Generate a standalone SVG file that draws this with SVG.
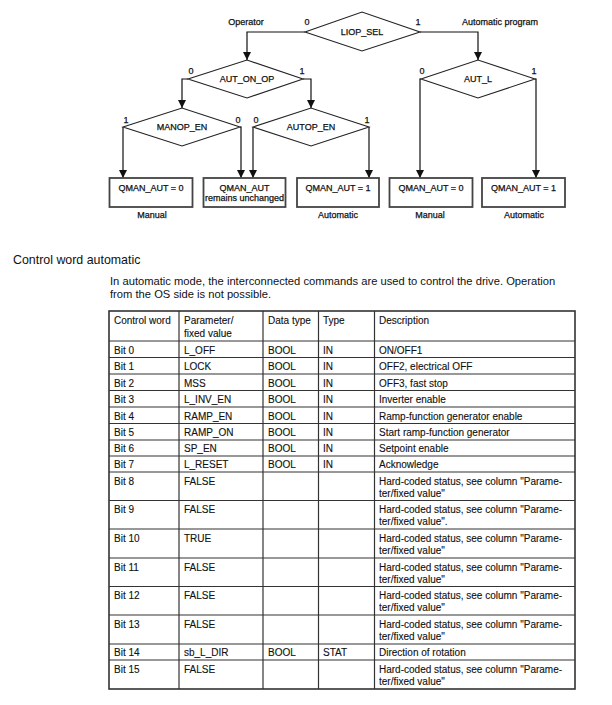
<svg xmlns="http://www.w3.org/2000/svg" width="612" height="705" viewBox="0 0 612 705">
<defs>
<style>
text{font-family:"Liberation Sans",Arial,sans-serif;fill:#111}
.d{font-size:9px;stroke:#111;stroke-width:0.25}
.m{text-anchor:middle}
.dia{fill:#fff;stroke:#222;stroke-width:1.1}
.box{fill:#fff;stroke:#444;stroke-width:1.8}
.c{fill:none;stroke:#111;stroke-width:1.2}
.t{font-size:10px;stroke:#111;stroke-width:0.12}
.tl{stroke:#333;stroke-width:1.2}
.tb{fill:none;stroke:#333;stroke-width:1.6}
</style>
</defs>
<rect width="612" height="705" fill="#fff"/>

<g id="connectors">
<path class="c" d="M305,32 H247 V60"/>
<path class="c" d="M420,32 H478 V60"/>
<path class="c" d="M188,79 H182 V108"/>
<path class="c" d="M303,79 H311 V108"/>
<path class="c" d="M123,127 V178"/>
<path class="c" d="M240,127 H241 V178"/>
<path class="c" d="M253,127 V178"/>
<path class="c" d="M369,127 V178"/>
<path class="c" d="M421,79 H420 V178"/>
<path class="c" d="M535,79 H536 V178"/>
<g fill="#111">
<path d="M243,52 L251,52 L247,60 Z"/>
<path d="M474,52 L482,52 L478,60 Z"/>
<path d="M178,100 L186,100 L182,108 Z"/>
<path d="M307,100 L315,100 L311,108 Z"/>
<path d="M119,170 L127,170 L123,178 Z"/>
<path d="M237,170 L245,170 L241,178 Z"/>
<path d="M249,170 L257,170 L253,178 Z"/>
<path d="M365,170 L373,170 L369,178 Z"/>
<path d="M416,170 L424,170 L420,178 Z"/>
<path d="M532,170 L540,170 L536,178 Z"/>
</g>
<text class="d m" x="246" y="25">Operator</text>
<text class="d m" x="307" y="25">0</text>
<text class="d m" x="418" y="25">1</text>
<text class="d" x="462" y="25">Automatic program</text>
<text class="d m" x="191" y="74">0</text>
<text class="d m" x="302" y="74">1</text>
<text class="d m" x="422" y="74">0</text>
<text class="d m" x="534" y="74">1</text>
<text class="d m" x="126" y="123">1</text>
<text class="d m" x="238" y="123">0</text>
<text class="d m" x="256" y="123">0</text>
<text class="d m" x="367" y="123">1</text>
</g>

<g id="liop_sel">
<polygon class="dia" points="305,32 362,12 420,32 362,51"/>
<text class="d m" x="362" y="35">LIOP_SEL</text>
</g>
<g id="aut_on_op">
<polygon class="dia" points="188,79 247,60 303,79 247,98"/>
<text class="d m" x="247" y="82">AUT_ON_OP</text>
</g>
<g id="aut_l">
<polygon class="dia" points="421,79 478,60 535,79 478,98"/>
<text class="d m" x="478" y="82">AUT_L</text>
</g>
<g id="manop_en">
<polygon class="dia" points="123,127 182,108 240,127 182,146"/>
<text class="d m" x="182" y="130">MANOP_EN</text>
</g>
<g id="autop_en">
<polygon class="dia" points="253,127 311,108 369,127 311,146"/>
<text class="d m" x="311" y="130">AUTOP_EN</text>
</g>

<g id="box1">
<rect class="box" x="109.5" y="178" width="83" height="29"/>
<text class="d m" x="151" y="191">QMAN_AUT = 0</text>
<text class="d m" x="152" y="218">Manual</text>
</g>
<g id="box2">
<rect class="box" x="203.5" y="178" width="82" height="29"/>
<text class="d m" x="244.5" y="191">QMAN_AUT</text>
<text class="d m" x="244.5" y="201">remains unchanged</text>
</g>
<g id="box3">
<rect class="box" x="297" y="178" width="82" height="29"/>
<text class="d m" x="338" y="191">QMAN_AUT = 1</text>
<text class="d m" x="338" y="218">Automatic</text>
</g>
<g id="box4">
<rect class="box" x="389.5" y="178" width="83" height="29"/>
<text class="d m" x="431" y="191">QMAN_AUT = 0</text>
<text class="d m" x="430" y="218">Manual</text>
</g>
<g id="box5">
<rect class="box" x="482" y="178" width="83" height="29"/>
<text class="d m" x="523.5" y="191">QMAN_AUT = 1</text>
<text class="d m" x="524" y="218">Automatic</text>
</g>

<text x="13" y="264" style="font-size:12.4px">Control word automatic</text>
<text x="110" y="284.5" style="font-size:11.2px">In automatic mode, the interconnected commands are used to control the drive. Operation</text>
<text x="110" y="298" style="font-size:11.2px">from the OS side is not possible.</text>

<g id="table">
<g class="tl">
<line x1="109" y1="341" x2="575" y2="341"/>
<line x1="109" y1="357.5" x2="575" y2="357.5"/>
<line x1="109" y1="374" x2="575" y2="374"/>
<line x1="109" y1="390.5" x2="575" y2="390.5"/>
<line x1="109" y1="407" x2="575" y2="407"/>
<line x1="109" y1="423.5" x2="575" y2="423.5"/>
<line x1="109" y1="440" x2="575" y2="440"/>
<line x1="109" y1="456" x2="575" y2="456"/>
<line x1="109" y1="472" x2="575" y2="472"/>
<line x1="109" y1="500.5" x2="575" y2="500.5"/>
<line x1="109" y1="529" x2="575" y2="529"/>
<line x1="109" y1="558" x2="575" y2="558"/>
<line x1="109" y1="586.5" x2="575" y2="586.5"/>
<line x1="109" y1="615" x2="575" y2="615"/>
<line x1="109" y1="644" x2="575" y2="644"/>
<line x1="109" y1="660" x2="575" y2="660"/>
<line x1="179" y1="311" x2="179" y2="689"/>
<line x1="263" y1="311" x2="263" y2="689"/>
<line x1="318.5" y1="311" x2="318.5" y2="689"/>
<line x1="374.5" y1="311" x2="374.5" y2="689"/>
</g>
<rect class="tb" x="109" y="311" width="466" height="378"/>
<g class="t">
<text x="114" y="324">Control word</text>
<text x="184" y="324">Parameter/</text>
<text x="184" y="337">fixed value</text>
<text x="268" y="324">Data type</text>
<text x="323" y="324">Type</text>
<text x="379" y="324">Description</text>

<text x="114" y="353.5">Bit 0</text><text x="184" y="353.5">L_OFF</text><text x="268" y="353.5">BOOL</text><text x="323" y="353.5">IN</text><text x="379" y="353.5">ON/OFF1</text>
<text x="114" y="370">Bit 1</text><text x="184" y="370">LOCK</text><text x="268" y="370">BOOL</text><text x="323" y="370">IN</text><text x="379" y="370">OFF2, electrical OFF</text>
<text x="114" y="386.5">Bit 2</text><text x="184" y="386.5">MSS</text><text x="268" y="386.5">BOOL</text><text x="323" y="386.5">IN</text><text x="379" y="386.5">OFF3, fast stop</text>
<text x="114" y="403">Bit 3</text><text x="184" y="403">L_INV_EN</text><text x="268" y="403">BOOL</text><text x="323" y="403">IN</text><text x="379" y="403">Inverter enable</text>
<text x="114" y="419.5">Bit 4</text><text x="184" y="419.5">RAMP_EN</text><text x="268" y="419.5">BOOL</text><text x="323" y="419.5">IN</text><text x="379" y="419.5">Ramp-function generator enable</text>
<text x="114" y="436">Bit 5</text><text x="184" y="436">RAMP_ON</text><text x="268" y="436">BOOL</text><text x="323" y="436">IN</text><text x="379" y="436">Start ramp-function generator</text>
<text x="114" y="452">Bit 6</text><text x="184" y="452">SP_EN</text><text x="268" y="452">BOOL</text><text x="323" y="452">IN</text><text x="379" y="452">Setpoint enable</text>
<text x="114" y="468">Bit 7</text><text x="184" y="468">L_RESET</text><text x="268" y="468">BOOL</text><text x="323" y="468">IN</text><text x="379" y="468">Acknowledge</text>

<text x="114" y="484.5">Bit 8</text><text x="184" y="484.5">FALSE</text><text x="379" y="484.5">Hard-coded status, see column "Parame-</text><text x="379" y="496.5">ter/fixed value"</text>
<text x="114" y="513">Bit 9</text><text x="184" y="513">FALSE</text><text x="379" y="513">Hard-coded status, see column "Parame-</text><text x="379" y="525">ter/fixed value".</text>
<text x="114" y="542">Bit 10</text><text x="184" y="542">TRUE</text><text x="379" y="542">Hard-coded status, see column "Parame-</text><text x="379" y="554">ter/fixed value"</text>
<text x="114" y="570.5">Bit 11</text><text x="184" y="570.5">FALSE</text><text x="379" y="570.5">Hard-coded status, see column "Parame-</text><text x="379" y="582.5">ter/fixed value"</text>
<text x="114" y="599">Bit 12</text><text x="184" y="599">FALSE</text><text x="379" y="599">Hard-coded status, see column "Parame-</text><text x="379" y="611">ter/fixed value"</text>
<text x="114" y="628">Bit 13</text><text x="184" y="628">FALSE</text><text x="379" y="628">Hard-coded status, see column "Parame-</text><text x="379" y="640">ter/fixed value"</text>
<text x="114" y="656">Bit 14</text><text x="184" y="656">sb_L_DIR</text><text x="268" y="656">BOOL</text><text x="323" y="656">STAT</text><text x="379" y="656">Direction of rotation</text>
<text x="114" y="673">Bit 15</text><text x="184" y="673">FALSE</text><text x="379" y="673">Hard-coded status, see column "Parame-</text><text x="379" y="685">ter/fixed value"</text>
</g>
</g>
</svg>
